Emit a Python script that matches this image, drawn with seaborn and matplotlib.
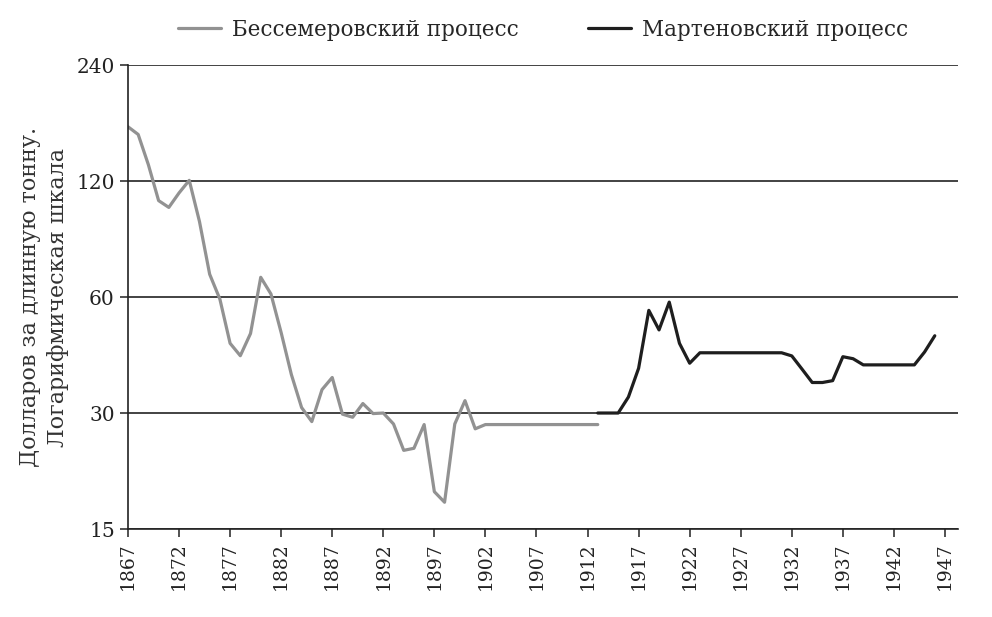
# =========================================================
# Цены стальных рельсов: бессемеровский и мартеновский процессы
# =========================================================
import pandas as pd
import matplotlib
matplotlib.use("Agg")
import matplotlib.pyplot as plt
import matplotlib.ticker as mticker
import seaborn as sns

# =========================
# DATA
# =========================
bessemer_years = list(range(1867, 1914))
bessemer_price = [
    166.0, 158.5, 132.25, 106.75, 102.5, 111.75, 120.5, 94.25, 68.75, 59.25,
    45.5, 42.25, 48.25, 67.5, 61.1, 48.5, 37.75, 31.0, 28.5, 34.5,
    37.1, 29.8, 29.25, 31.75, 29.9, 30.0, 28.1, 24.0, 24.3, 28.0,
    18.75, 17.6, 28.1, 32.3, 27.3,
    28.0, 28.0, 28.0, 28.0, 28.0, 28.0, 28.0, 28.0, 28.0, 28.0, 28.0, 28.0,
]

open_hearth_years = list(range(1913, 1947))
open_hearth_price = [
    30.0, 30.0, 30.0, 33.0, 39.2, 55.4, 49.3, 58.2, 45.5, 40.4,
    43.0, 43.0, 43.0, 43.0, 43.0, 43.0, 43.0, 43.0, 43.0, 42.2,
    39.0, 36.0, 36.0, 36.4, 42.0, 41.5, 40.0, 40.0, 40.0, 40.0,
    40.0, 40.0, 43.2, 47.6,
]

series_names = ["Бессемеровский процесс", "Мартеновский процесс"]
y_ticks = [15, 30, 60, 120, 240]
x_ticks = list(range(1867, 1948, 5))
y_label = "Долларов за длинную тонну.\nЛогарифмическая шкала"

# =========================
# STYLE
# =========================
sns.set_theme(style="ticks")
plt.rcParams["font.family"] = ["DejaVu Serif"]

df = pd.concat([
    pd.DataFrame({"year": bessemer_years, "price": bessemer_price,
                  "process": series_names[0]}),
    pd.DataFrame({"year": open_hearth_years, "price": open_hearth_price,
                  "process": series_names[1]}),
])

palette = {series_names[0]: "#929292", series_names[1]: "#1e1e1e"}

fig = plt.figure(figsize=(9.92, 6.17), dpi=100)
ax = fig.add_axes([0.129, 0.1426, 0.837, 0.752])

sns.lineplot(
    data=df,
    x="year",
    y="price",
    hue="process",
    palette=palette,
    linewidth=2.3,
    ax=ax,
)

ax.set_yscale("log", base=2)
ax.set_ylim(15, 240)
ax.set_xlim(1867, 1948.3)
ax.yaxis.set_major_locator(mticker.FixedLocator(y_ticks))
ax.yaxis.set_major_formatter(mticker.FixedFormatter([str(v) for v in y_ticks]))
ax.yaxis.set_minor_locator(mticker.NullLocator())
ax.set_xticks(x_ticks)
ax.set_xticklabels([str(v) for v in x_ticks], rotation=90)

ax.yaxis.grid(True, color="#222222", linewidth=1.2)
ax.xaxis.grid(False)
ax.set_axisbelow(True)

for side in ["top", "right"]:
    ax.spines[side].set_visible(False)
for side in ["left", "bottom"]:
    ax.spines[side].set_color("#222222")
    ax.spines[side].set_linewidth(1.2)

ax.tick_params(axis="both", colors="#222222",
               length=6, width=1.1, direction="out")
ax.tick_params(axis="y", labelsize=14.5)
ax.tick_params(axis="x", labelsize=13.5)

ax.set_xlabel("")
ax.set_ylabel(y_label, fontsize=16, color="#333333", labelpad=5,
              linespacing=1.35)

handles, labels = ax.get_legend_handles_labels()
ax.legend(
    handles, labels,
    loc="lower center",
    bbox_to_anchor=(0.5, 1.01),
    ncol=2,
    frameon=False,
    fontsize=15.5,
    handlelength=2.0,
    columnspacing=3.2,
    handletextpad=0.5,
)

fig.savefig("out.png", dpi=100)
